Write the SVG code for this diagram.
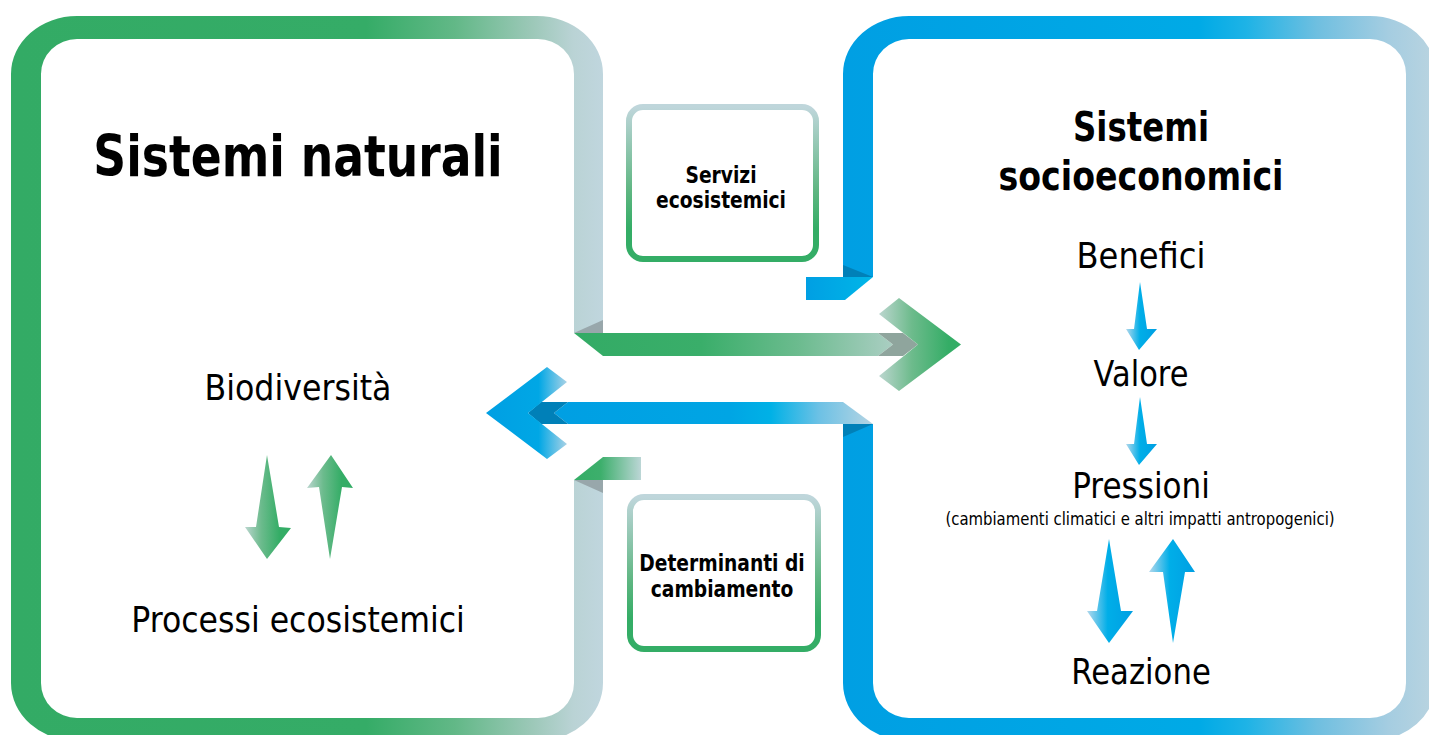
<svg xmlns="http://www.w3.org/2000/svg" width="1429" height="735" viewBox="0 0 1429 735">
<style>
.t{font-family:'DejaVu Sans',sans-serif;fill:#000;text-anchor:middle}
.b{font-weight:bold}
.r{font-size:36px}
.bx{font-size:22.5px;font-weight:bold}
.box{fill:#fff;stroke:url(#gBox);stroke-width:6}
.dg{fill:#98A7AB}
.db{fill:#0080B8}
</style>
<defs>
<linearGradient id="gL" gradientUnits="userSpaceOnUse" x1="11" y1="0" x2="603" y2="0">
<stop offset="0" stop-color="#33AB65"/><stop offset="0.6" stop-color="#35AC67"/><stop offset="0.75" stop-color="#62B887"/><stop offset="0.88" stop-color="#9CC8B8"/><stop offset="0.95" stop-color="#BAD3D5"/><stop offset="1" stop-color="#C0D6DE"/>
</linearGradient>
<linearGradient id="gR" gradientUnits="userSpaceOnUse" x1="843" y1="0" x2="1436" y2="0">
<stop offset="0" stop-color="#009FE3"/><stop offset="0.6" stop-color="#00AAE6"/><stop offset="0.68" stop-color="#1EB3E6"/><stop offset="0.8" stop-color="#6FBFE0"/><stop offset="0.92" stop-color="#A5CDE1"/><stop offset="1" stop-color="#BAD4E0"/>
</linearGradient>
<linearGradient id="gBox" x1="0" y1="0" x2="0" y2="1">
<stop offset="0" stop-color="#BFD6DB"/><stop offset="0.55" stop-color="#5FB682"/><stop offset="0.8" stop-color="#34AD66"/><stop offset="1" stop-color="#34AD66"/>
</linearGradient>
<linearGradient id="gGbar" gradientUnits="userSpaceOnUse" x1="574" y1="0" x2="893" y2="0">
<stop offset="0" stop-color="#33AB65"/><stop offset="0.4" stop-color="#3AAE6A"/><stop offset="0.7" stop-color="#6BBB8E"/><stop offset="1" stop-color="#AACEC2"/>
</linearGradient>
<linearGradient id="gGchev" gradientUnits="userSpaceOnUse" x1="879" y1="0" x2="961" y2="0">
<stop offset="0" stop-color="#BCD6CF"/><stop offset="0.4" stop-color="#6DBB8C"/><stop offset="0.85" stop-color="#34AD66"/><stop offset="1" stop-color="#34AD66"/>
</linearGradient>
<linearGradient id="gBbar" gradientUnits="userSpaceOnUse" x1="554" y1="0" x2="873" y2="0">
<stop offset="0" stop-color="#009FE3"/><stop offset="0.55" stop-color="#00A5E4"/><stop offset="0.68" stop-color="#00B1E6"/><stop offset="0.83" stop-color="#6CC1E5"/><stop offset="1" stop-color="#B5D4E3"/>
</linearGradient>
<linearGradient id="gBchev" gradientUnits="userSpaceOnUse" x1="486" y1="0" x2="567" y2="0">
<stop offset="0" stop-color="#009FE3"/><stop offset="0.65" stop-color="#00A7E5"/><stop offset="1" stop-color="#A9D2E6"/>
</linearGradient>
<linearGradient id="gBtab" gradientUnits="userSpaceOnUse" x1="806" y1="0" x2="873" y2="0">
<stop offset="0" stop-color="#009FE3"/><stop offset="1" stop-color="#00B6E8"/>
</linearGradient>
<linearGradient id="gGtab" gradientUnits="userSpaceOnUse" x1="574" y1="0" x2="641" y2="0">
<stop offset="0" stop-color="#34AD66"/><stop offset="0.4" stop-color="#3DAF6C"/><stop offset="1" stop-color="#BCD6D6"/>
</linearGradient>
<linearGradient id="gGa1" gradientUnits="userSpaceOnUse" x1="245" y1="0" x2="291" y2="0">
<stop offset="0" stop-color="#BBD6CF"/><stop offset="0.35" stop-color="#6CBB8D"/><stop offset="0.75" stop-color="#34AD66"/>
</linearGradient>
<linearGradient id="gGa2" gradientUnits="userSpaceOnUse" x1="307" y1="0" x2="353" y2="0">
<stop offset="0" stop-color="#BBD6CF"/><stop offset="0.35" stop-color="#6CBB8D"/><stop offset="0.75" stop-color="#34AD66"/>
</linearGradient>
<linearGradient id="gBa1" gradientUnits="userSpaceOnUse" x1="1126" y1="0" x2="1157" y2="0">
<stop offset="0" stop-color="#B3D8EC"/><stop offset="0.45" stop-color="#00AEE8"/><stop offset="1" stop-color="#009FE3"/>
</linearGradient>
<linearGradient id="gBa2" gradientUnits="userSpaceOnUse" x1="1087" y1="0" x2="1133" y2="0">
<stop offset="0" stop-color="#B3D8EC"/><stop offset="0.45" stop-color="#00AEE8"/><stop offset="1" stop-color="#009FE3"/>
</linearGradient>
<linearGradient id="gBa3" gradientUnits="userSpaceOnUse" x1="1149" y1="0" x2="1195" y2="0">
<stop offset="0" stop-color="#B3D8EC"/><stop offset="0.45" stop-color="#00AEE8"/><stop offset="1" stop-color="#009FE3"/>
</linearGradient>
</defs>
<rect width="1429" height="735" fill="#fff"/>

<g id="sistemi-naturali">
<path fill="url(#gL)" d="M574,333 L574,74 A36,35 0 0 0 538,39 L77,39 A36,35 0 0 0 41,74 L41,683 A36,35 0 0 0 77,718 L538,718 A36,35 0 0 0 574,683 L574,480 L603,480 L603,683 A66,58 0 0 1 537,741 L77,741 A66,58 0 0 1 11,683 L11,74 A66,58 0 0 1 77,16 L537,16 A66,58 0 0 1 603,74 L603,333 Z"/>
<text class="t b" font-size="57" transform="translate(298,176) scale(0.8,1)">Sistemi naturali</text>
<text class="t r" transform="translate(298,400) scale(0.879,1)">Biodiversità</text>
<text class="t r" transform="translate(298,632) scale(0.877,1)">Processi ecosistemici</text>
</g>

<g id="sistemi-socioeconomici">
<path fill="url(#gR)" d="M873,277 L873,74 A36,35 0 0 1 909,39 L1370,39 A36,35 0 0 1 1406,74 L1406,683 A36,35 0 0 1 1370,718 L909,718 A36,35 0 0 1 873,683 L873,424 L843,424 L843,683 A66,58 0 0 0 909,741 L1370,741 A66,58 0 0 0 1436,683 L1436,74 A66,58 0 0 0 1370,16 L909,16 A66,58 0 0 0 843,74 L843,277 Z"/>
<text class="t b" font-size="41" transform="translate(1141,141) scale(0.79,1)">Sistemi</text>
<text class="t b" font-size="41" transform="translate(1141,190) scale(0.81,1)">socioeconomici</text>
<text class="t r" transform="translate(1141,268) scale(0.894,1)">Benefici</text>
<text class="t r" transform="translate(1141,386) scale(0.847,1)">Valore</text>
<text class="t r" transform="translate(1141,498) scale(0.863,1)">Pressioni</text>
<text class="t" font-size="17" transform="translate(1140,525) scale(0.877,1)">(cambiamenti climatici e altri impatti antropogenici)</text>
<text class="t r" transform="translate(1141,684) scale(0.854,1)">Reazione</text>
</g>

<g id="servizi-ecosistemici">
<rect class="box" x="629" y="107" width="187" height="152" rx="14"/>
<text class="t bx" transform="translate(721,183) scale(0.83,1)">Servizi</text>
<text class="t bx" transform="translate(721,208) scale(0.83,1)">ecosistemici</text>
</g>

<g id="determinanti-di-cambiamento">
<rect class="box" x="630" y="497" width="188" height="152" rx="14"/>
<text class="t bx" transform="translate(722,571) scale(0.83,1)">Determinanti di</text>
<text class="t bx" transform="translate(722,597) scale(0.83,1)">cambiamento</text>
</g>

<g id="connectors">
<polygon fill="url(#gGbar)" points="574,333 878,333 893,344.5 878,356 603,356"/>
<polygon fill="#8FA59D" points="878,333 903,333 918,344.5 903,356 878,356 893,344.5"/>
<polygon fill="url(#gGchev)" points="899,298 961,344.5 899,391 879,376 918,344.5 879,314"/>
<polygon class="dg" points="574,333 603,320 603,333"/>
<polygon fill="url(#gBbar)" points="568,402 843,402 873,424 568,424 554,413"/>
<polygon class="db" points="541,402 568,402 554,413 568,424 541,424 528,413"/>
<polygon fill="url(#gBchev)" points="547,367 567,382 528,413 567,444 547,459 486,413"/>
<polygon class="db" points="843,424 873,424 843,437"/>
<polygon fill="url(#gBtab)" points="806,277 873,277 845,300 806,300"/>
<polygon class="db" points="843,265 873,277 843,277"/>
<polygon fill="url(#gGtab)" points="603,457 641,457 641,480 574,480"/>
<polygon class="dg" points="574,480 603,480 603,493"/>
<polygon fill="url(#gGa1)" points="267,455 279,527 291,528 267,559 245,527 256,527"/>
<polygon fill="url(#gGa2)" points="331,455 353,488 342,487 330,559 319,487 307,488"/>
<polygon fill="url(#gBa1)" points="1140,282 1147,329 1157,329 1139,350 1126,329 1134,329"/>
<polygon fill="url(#gBa1)" points="1140,397 1147,444 1157,444 1139,465 1126,444 1134,444"/>
<polygon fill="url(#gBa2)" points="1109,539 1121,611 1133,611 1109,643 1087,611 1097,611"/>
<polygon fill="url(#gBa3)" points="1173,539 1195,572 1185,572 1173,643 1163,572 1149,572"/>
</g>
</svg>
